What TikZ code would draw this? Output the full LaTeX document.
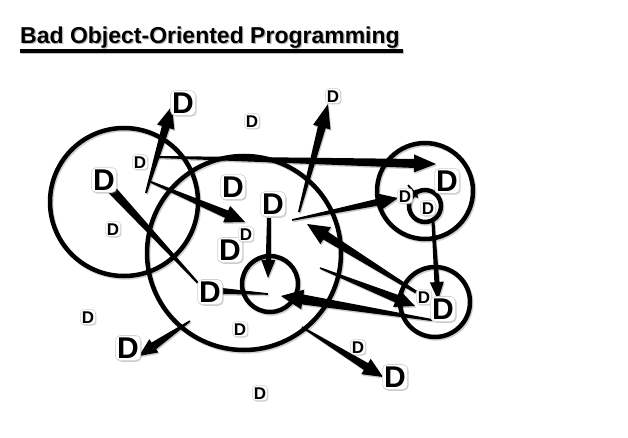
\documentclass[tikz,border=0pt]{standalone}
\usepackage{fontspec}
\setmainfont{Liberation Sans}
\usetikzlibrary{calc,shadows}
\tikzset{
  dbig/.style={fill=white, draw=black!18, line width=0.6pt, rounded corners=5pt, inner sep=1.8pt,
    font=\fontsize{30}{30}\selectfont\bfseries, text height=21.5pt, text depth=0pt,
    drop shadow={opacity=0.4, shadow xshift=1pt, shadow yshift=-1.2pt}},
  dsmall/.style={fill=white, draw=black!18, line width=0.5pt, rounded corners=3.5pt, inner sep=1.4pt,
    font=\fontsize{17}{17}\selectfont\bfseries, text height=12.2pt, text depth=0pt,
    drop shadow={opacity=0.4, shadow xshift=0.8pt, shadow yshift=-1pt}},
  ring/.style={line width=4.5pt, draw=black},
  ringshadow/.style={line width=4.5pt, draw=black, opacity=0.18, transform canvas={shift={(1.2pt,-1.5pt)}}},
  arrshadow/.style={fill=black, opacity=0.2, transform canvas={shift={(1pt,-1.5pt)}}},
  titlefont/.style={font=\fontsize{23}{23}\selectfont\bfseries, inner sep=0pt}
}
% tapered arrow: tail, tip, half width at tail, half width at head base, half head width, head length
\newcommand\taparrow[6]{%
  \coordinate (hb) at ($(#2)!#6!(#1)$);
  \fill[arrshadow] ($(#1)!#3!90:(#2)$) -- ($(hb)!#4!90:(#2)$) -- ($(hb)!#5!90:(#2)$) -- (#2)
    -- ($(hb)!#5!-90:(#2)$) -- ($(hb)!#4!-90:(#2)$) -- ($(#1)!#3!-90:(#2)$) -- cycle;
  \fill ($(#1)!#3!90:(#2)$) -- ($(hb)!#4!90:(#2)$) -- ($(hb)!#5!90:(#2)$) -- (#2)
    -- ($(hb)!#5!-90:(#2)$) -- ($(hb)!#4!-90:(#2)$) -- ($(#1)!#3!-90:(#2)$) -- cycle;
}
% tapered line without head: start, end, half width at start, half width at end
\newcommand\tapline[4]{%
  \fill[arrshadow] ($(#1)!#3!90:(#2)$) -- ($(#2)!#4!-90:(#1)$) -- ($(#2)!#4!90:(#1)$) -- ($(#1)!#3!-90:(#2)$) -- cycle;
  \fill ($(#1)!#3!90:(#2)$) -- ($(#2)!#4!-90:(#1)$) -- ($(#2)!#4!90:(#1)$) -- ($(#1)!#3!-90:(#2)$) -- cycle;
}
\begin{document}
\begin{tikzpicture}[x=1pt,y=-1pt]
\useasboundingbox (0,0) rectangle (628,438);

% title
\node[titlefont, anchor=base west, text=black!45, opacity=0.6] at (21.2,44.8) {Bad Object-Oriented Programming};
\node[titlefont, anchor=base west] (title) at (20,43.5) {Bad Object-Oriented Programming};
\coordinate (ul1) at (20,51);
\coordinate (ul2) at (403,51);
\draw[line width=4pt, black!40, opacity=0.6, transform canvas={shift={(1pt,-1.5pt)}}] (ul1) -- (ul2);
\draw[line width=4pt] (ul1) -- (ul2);

% circles
\foreach \c/\r in {{(124,202)}/74, {(244,253)}/97, {(270,284)}/28, {(425,191)}/48, {(425,206)}/16, {(435,302)}/35}
  \draw[ringshadow] \c circle[radius=\r];
\coordinate (cL) at (124,202);
\coordinate (cM) at (244,253);
\coordinate (cS) at (270,284);
\coordinate (cTR) at (425,191);
\coordinate (cT) at (425,206);
\coordinate (cBR) at (435,302);
\draw[ring] (cL) circle[radius=74];
\draw[ring] (cM) circle[radius=97];
\draw[ring] (cS) circle[radius=28];
\draw[ring] (cTR) circle[radius=48];
\draw[ring] (cT) circle[radius=16];
\draw[ring] (cBR) circle[radius=35];

% connector end points
\coordinate (t1) at (146,193);  \coordinate (h1) at (172,106);
\coordinate (t2) at (158,157);  \coordinate (h2) at (436,164);
\coordinate (t3) at (151,182);  \coordinate (h3) at (245,222);
\coordinate (t4) at (112,190);  \coordinate (h4) at (198,283);
\coordinate (t5) at (269,218);  \coordinate (h5) at (268,278);
\coordinate (t6) at (299,212);  \coordinate (h6) at (328,104);
\coordinate (t7) at (292,220);  \coordinate (h7) at (398,198);
\coordinate (t8) at (408,185);  \coordinate (h8) at (418,198);
\coordinate (t9) at (433,222);  \coordinate (h9) at (438,300);
\coordinate (t10) at (416,292); \coordinate (h10) at (307,224);
\coordinate (t11) at (320,268); \coordinate (h11) at (415,306);
\coordinate (t12) at (432,320); \coordinate (h12) at (281,296);
\coordinate (t13) at (222,291); \coordinate (h13) at (268,294);
\coordinate (t14) at (190,321); \coordinate (h14) at (139,356);
\coordinate (t15) at (302,327); \coordinate (h15) at (383,377);

\taparrow{t1}{h1}{1pt}{4pt}{9pt}{22pt}
\taparrow{t2}{h2}{1pt}{4.5pt}{9pt}{22pt}
\taparrow{t3}{h3}{1pt}{4pt}{9pt}{20pt}
\tapline{t4}{h4}{4.5pt}{1pt}
\taparrow{t5}{h5}{2pt}{2.5pt}{7pt}{18pt}
\taparrow{t6}{h6}{1pt}{4pt}{9pt}{24pt}
\taparrow{t7}{h7}{0.8pt}{3.5pt}{8pt}{18pt}
\taparrow{t8}{h8}{0.8pt}{1.5pt}{4pt}{8pt}
\taparrow{t9}{h9}{1.5pt}{2.5pt}{7pt}{18pt}
\taparrow{t10}{h10}{1.5pt}{4.5pt}{10pt}{22pt}
\taparrow{t11}{h11}{0.8pt}{4pt}{9pt}{20pt}
\taparrow{t12}{h12}{1pt}{5pt}{10pt}{22pt}
\tapline{t13}{h13}{3pt}{0.8pt}
\taparrow{t14}{h14}{0.8pt}{4pt}{8pt}{18pt}
\taparrow{t15}{h15}{0.8pt}{4pt}{9pt}{20pt}

% D objects
\node[dbig]   (dA) at (183,103) {D};
\node[dsmall] (dB) at (333,96)  {D};
\node[dsmall] (dC) at (252,121) {D};
\node[dsmall] (dD) at (140,162) {D};
\node[dbig]   (dE) at (104,180) {D};
\node[dbig]   (dF) at (233,187) {D};
\node[dbig]   (dG) at (273,204) {D};
\node[dsmall] (dH) at (113,229) {D};
\node[dbig]   (dJ) at (230,250) {D};
\node[dsmall] (dI) at (246,234) {D};
\node[dbig]   (dK) at (210,292) {D};
\node[dsmall] (dL) at (88,317)  {D};
\node[dbig]   (dM) at (128,348) {D};
\node[dsmall] (dN) at (240,329) {D};
\node[dsmall] (dO) at (358,347) {D};
\node[dbig]   (dP) at (395,377) {D};
\node[dsmall] (dQ) at (260,393) {D};
\node[dbig]   (dR) at (447,181) {D};
\node[dsmall] (dS) at (405,196) {D};
\node[dsmall] (dT) at (428,208) {D};
\node[dsmall] (dU) at (424,297) {D};
\node[dbig]   (dV) at (443,309) {D};
\end{tikzpicture}
\end{document}
